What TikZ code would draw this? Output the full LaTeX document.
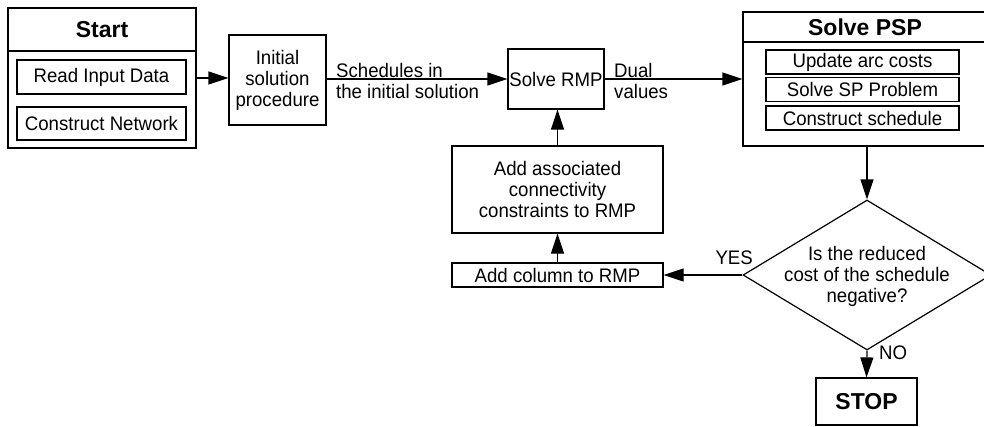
\documentclass[tikz,border=0pt]{standalone}
\usepackage{fontspec}
\setmainfont[FakeStretch=0.95]{Liberation Sans}
\newfontfamily\titlefont{Liberation Sans}
\usetikzlibrary{arrows.meta,shapes.geometric}

\tikzset{
  box/.style={draw, line width=1.2pt, rectangle, inner sep=0pt, align=center},
  subbox/.style={draw, line width=1.2pt, rectangle, inner sep=0pt, align=center},
  decision/.style={draw, line width=1.2pt, diamond, inner sep=0pt},
  title/.style={inner sep=0pt, font=\titlefont\fontsize{23}{26}\selectfont\bfseries},
  lbl/.style={inner sep=0pt, align=left},
  divider/.style={line width=1.2pt},
  arr/.style={line width=1.2pt, -{Triangle[length=20pt,width=13pt]}},
}

\begin{document}
\begin{tikzpicture}[x=1pt, y=-1pt, font=\fontsize{19.6}{21}\selectfont]
  \useasboundingbox (0,0) rectangle (984,426);

  % Start block with its two sub-steps
  \node[box, minimum width=188pt, minimum height=140pt] (start) at (102,78) {};
  \draw[divider] (8,51) -- (196,51);
  \node[title] (starttitle) at (102,30) {Start};
  \node[subbox, minimum width=169pt, minimum height=34pt] (read) at (101.5,77) {Read Input Data};
  \node[subbox, minimum width=169pt, minimum height=33pt] (net) at (101.5,123.5) {Construct Network};

  % Initial solution and master problem
  \node[box, minimum width=97pt, minimum height=90pt] (init) at (277.5,80) {Initial\\solution\\procedure};
  \node[box, minimum width=96pt, minimum height=60pt] (rmp) at (556,79) {Solve RMP};

  % Pricing sub-problem block
  \node[box, minimum width=242pt, minimum height=134pt] (psp) at (864,79) {};
  \draw[divider] (743,42) -- (985,42);
  \node[title] (psptitle) at (865,27) {Solve PSP};
  \node[subbox, minimum width=193pt, minimum height=24pt] (arc) at (862.5,62) {Update arc costs};
  \node[subbox, minimum width=193pt, minimum height=24pt] (sp) at (862.5,89.7) {Solve SP Problem};
  \node[subbox, minimum width=193pt, minimum height=24pt] (sched) at (862.5,118) {Construct schedule};

  % Column generation loop
  \node[box, minimum width=211pt, minimum height=87pt] (assoc) at (557.5,189.5) {Add associated\\connectivity\\constraints to RMP};
  \node[box, minimum width=211pt, minimum height=24pt] (addcol) at (557.5,275) {Add column to RMP};

  % Decision on reduced cost
  \node[decision, minimum width=248pt, minimum height=150pt] (dec) at (867,275) {};
  \node[inner sep=0pt, align=center] (dectext) at (867,276.5) {Is the reduced\\cost of the schedule\\negative?};

  \node[box, minimum width=101pt, minimum height=47pt, font=\titlefont\fontsize{23}{26}\selectfont\bfseries] (stop) at (866.5,401.5) {STOP};

  % Connectors
  \draw[arr] (start.east) -- (start.east -| init.west);
  \draw[arr] (init.east |- rmp.west) -- (rmp.west);
  \draw[arr] (rmp.east) -- (rmp.east -| psp.west);
  \draw[arr] (psp.south -| dec.north) -- (dec.north);
  \draw[arr] (dec.west) -- (addcol.east);
  \draw[arr] (addcol.north) -- (assoc.south);
  \draw[arr] (assoc.north) -- (assoc.north |- rmp.south);
  \draw[arr] (dec.south) -- (stop.north);

  % Connector labels
  \node[lbl, anchor=west] (schedlbl) at (336,81) {Schedules in\\the initial solution};
  \node[lbl, anchor=west] (duallbl) at (614,81) {Dual\\values};
  \node[lbl, anchor=east] (yes) at (753,258) {YES};
  \node[lbl, anchor=west] (no) at (879,353) {NO};
\end{tikzpicture}
\end{document}
